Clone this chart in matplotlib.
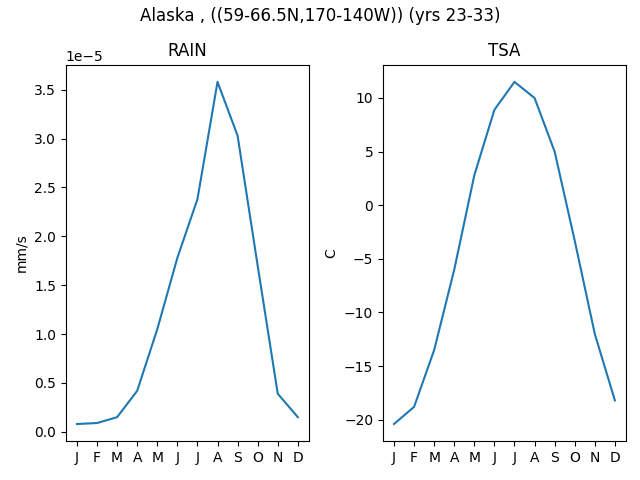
import matplotlib
matplotlib.use("Agg")
import matplotlib.pyplot as plt

months = ["J", "F", "M", "A", "M", "J", "J", "A", "S", "O", "N", "D"]
rain = [0.08e-5, 0.09e-5, 0.15e-5, 0.42e-5, 1.05e-5, 1.78e-5,
        2.38e-5, 3.58e-5, 3.03e-5, 1.70e-5, 0.39e-5, 0.15e-5]
tsa = [-20.4, -18.8, -13.5, -6.0, 2.8, 8.9, 11.5, 10.0, 5.0, -3.3, -12.0, -18.2]

fig, (ax1, ax2) = plt.subplots(1, 2, figsize=(6.4, 4.8))
x = range(len(months))

ax1.plot(x, rain)
ax1.set_title("RAIN")
ax1.set_ylabel("mm/s")
ax1.set_xticks(list(x))
ax1.set_xticklabels(months)

ax2.plot(x, tsa)
ax2.set_title("TSA")
ax2.set_ylabel("C")
ax2.set_xticks(list(x))
ax2.set_xticklabels(months)

fig.suptitle("Alaska , ((59-66.5N,170-140W)) (yrs 23-33)", y=0.985)
fig.subplots_adjust(left=0.103, right=0.978, top=0.865, bottom=0.081, wspace=0.305)
fig.savefig("out.png", dpi=100)
